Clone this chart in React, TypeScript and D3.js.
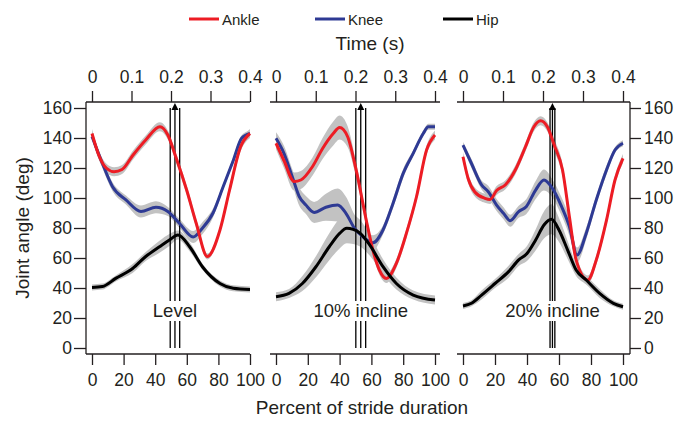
import React, { useEffect, useRef } from 'react';
import * as d3 from 'd3';

type Pt = [number, number, number];

const conditions = ['Level', '10% incline', '20% incline'];
const percentTicks = [0, 20, 40, 60, 80, 100];
const timeTicks = [0, 0.1, 0.2, 0.3, 0.4];
const angleTicks = [0, 20, 40, 60, 80, 100, 120, 140, 160];
const jointNames = ['Ankle', 'Knee', 'Hip'];
const jointColors = ['#ed1c24', '#2e3a94', '#000000'];

// [percent of stride, joint angle (deg), SD]
const levelAnkle: Pt[] = [[0, 143, 3], [4.5, 128, 3], [9, 120, 3], [14, 117.5, 3], [19, 119, 3], [26, 128.7, 3], [34, 138.7, 3], [43, 147.5, 3], [48, 142, 3], [53, 127.5, 3], [60, 105, 3], [66, 83, 3], [73, 61, 2], [81, 78.7, 2], [87, 105, 3], [94, 134, 3], [100, 143, 3]];
const levelKnee: Pt[] = [[0, 141, 2], [6.6, 123, 3], [13, 107.5, 3], [21.5, 98.7, 3], [31, 91, 4], [40.5, 93.8, 4], [48, 91, 3], [55.4, 83, 3], [64, 74, 4], [70, 80, 4], [76.6, 90, 3], [83, 107.5, 2], [89.4, 125, 2], [94.7, 139.8, 2], [100, 143, 2]];
const levelHip: Pt[] = [[0, 40.4, 2], [6.6, 41, 2], [15, 46.4, 2], [25.7, 53, 3], [34, 61, 3], [42.7, 67.5, 4], [49, 72, 4], [54.4, 75.3, 3], [61.8, 67.5, 3], [70, 54, 2], [81, 43, 2], [89.4, 39.8, 2], [100, 39, 2]];

const incline10Ankle: Pt[] = [[0, 136.5, 4], [5, 125, 5], [11.4, 111, 6], [15.6, 112, 6], [23, 121, 6], [29.3, 133, 7], [36, 143, 8], [40, 147, 8], [45, 141, 7], [50.4, 118.7, 5], [56.8, 85, 4], [61, 65, 3], [65, 52, 3], [69.4, 46.4, 3], [75.7, 56.4, 3], [82, 76.4, 3], [88.4, 101, 3], [94.7, 132, 3], [100, 142, 3]];
const incline10Knee: Pt[] = [[0, 139.8, 4], [5, 129.8, 5], [10.3, 114, 5], [14.6, 101, 6], [18.8, 95.3, 6], [24, 90.4, 7], [31.4, 93.8, 9], [38.8, 95.3, 11], [44, 89.8, 11], [49.4, 79.8, 9], [54.6, 74.2, 7], [61, 70.2, 5], [67.3, 78.7, 3], [73.6, 96.4, 3], [80, 116.4, 3], [86.3, 129.8, 2], [92.6, 143, 2], [95.8, 147.5, 2], [100, 147.5, 2]];
const incline10Hip: Pt[] = [[0, 34.2, 3], [8.2, 36.4, 3], [16.6, 43, 5], [25, 54, 7], [33.5, 67.5, 9], [40, 76.4, 10], [44.5, 79.8, 10], [52.5, 76.9, 9], [58.9, 68.7, 7], [67.3, 54.2, 5], [75.7, 43, 4], [86.3, 35.3, 3], [100, 32, 3]];

const incline20Ankle: Pt[] = [[0, 127.5, 3], [3.2, 113, 3], [7.4, 104, 3], [13.7, 99.8, 3], [16.9, 99, 3], [21, 105, 3], [26.4, 108.7, 3], [32.7, 118.7, 3], [39, 134, 3], [44.3, 147.5, 3], [48.5, 151.5, 3], [52.7, 147.5, 3], [57, 135.3, 4], [62.2, 118.7, 4], [66.5, 87.5, 4], [70.7, 58.7, 3], [78, 45.3, 3], [83.3, 58.7, 3], [89.7, 85.3, 3], [95, 112, 3], [100, 126.4, 3]];
const incline20Knee: Pt[] = [[0, 135.3, 2], [5.3, 123, 3], [11.6, 108.7, 3], [15.8, 104.2, 4], [21, 95.3, 4], [25.3, 89.8, 4], [29.5, 84.9, 4], [34.8, 90.9, 4], [39.5, 94.2, 5], [45.4, 105.3, 6], [50.6, 112, 7], [55.9, 106.4, 6], [61.2, 95.3, 6], [66.5, 80.9, 6], [71.3, 62, 5], [77, 76.4, 4], [83.3, 98.7, 3], [89.7, 118.7, 3], [95, 132, 2], [100, 136.5, 2]];
const incline20Hip: Pt[] = [[0, 28, 2], [5.3, 29.8, 2], [11.6, 35.3, 3], [20, 43, 3], [28.5, 50.9, 4], [34.8, 58.7, 4], [40, 63, 5], [45.4, 72, 7], [50.6, 82, 9], [55.3, 85.8, 10], [60, 78.7, 8], [65.4, 65.3, 6], [70.7, 52, 4], [77, 45.3, 3], [85.4, 36.4, 3], [94, 29.8, 2], [100, 27.5, 2]];

// toe-off (percent of stride), mean and SD
const toeOffMean = [52.5, 53.3, 55.9];
const toeOffSd = [3, 3.1, 1.5];

const panelSeries = [
  [levelAnkle, levelKnee, levelHip],
  [incline10Ankle, incline10Knee, incline10Hip],
  [incline20Ankle, incline20Knee, incline20Hip],
];

const FONT = '"Liberation Sans", Arial, Helvetica, sans-serif';
const INK = '#231f20';

const App = () => {
  const svgRef = useRef<SVGSVGElement>(null);

  useEffect(() => {
    renderChart();
  }, []);

  const renderChart = () => {
    const svg = d3.select(svgRef.current);
    svg.selectAll('*').remove();

    const top = 102;
    const bottom = 354;
    const x0s = [92, 276, 463];
    const x1s = [250, 435, 623];

    const y = d3.scaleLinear().domain([0, 160]).range([348, 108]);

    // legend
    const legendX = [189, 315, 443];
    jointNames.forEach((name, j) => {
      svg.append('line')
        .attr('x1', legendX[j]).attr('x2', legendX[j] + 30)
        .attr('y1', 19).attr('y2', 19)
        .attr('stroke', jointColors[j]).attr('stroke-width', 3);
      svg.append('text')
        .attr('x', legendX[j] + 33).attr('y', 24.5)
        .attr('font-family', FONT).attr('font-size', 15).attr('fill', INK)
        .text(name);
    });

    svg.append('text')
      .attr('x', 370).attr('y', 50)
      .attr('text-anchor', 'middle')
      .attr('font-family', FONT).attr('font-size', 19).attr('fill', INK)
      .text('Time (s)');

    svg.append('text')
      .attr('x', 362).attr('y', 414)
      .attr('text-anchor', 'middle')
      .attr('font-family', FONT).attr('font-size', 19).attr('fill', INK)
      .text('Percent of stride duration');

    svg.append('text')
      .attr('transform', 'translate(28.5,228) rotate(-90)')
      .attr('text-anchor', 'middle')
      .attr('font-family', FONT).attr('font-size', 19).attr('fill', INK)
      .text('Joint angle (deg)');

    const styleAxis = (g: any) => {
      g.select('.domain').remove();
      g.selectAll('line').attr('stroke', INK).attr('stroke-width', 1.3);
      g.selectAll('text').attr('font-family', FONT).attr('font-size', 17.5).attr('fill', INK);
      g.attr('font-family', null).attr('font-size', null);
    };

    conditions.forEach((label, i) => {
      const x = d3.scaleLinear().domain([0, 100]).range([x0s[i], x1s[i]]);
      const t = d3.scaleLinear().domain([0, 0.4]).range([x0s[i], x1s[i]]);
      const g = svg.append('g');

      const lineStart = x0s[i] - 6;
      const lineEnd = x1s[i] + (i === 0 ? 0 : i === 1 ? 5 : 7);

      // SD bands
      const band = d3.area<Pt>()
        .x(d => x(d[0]))
        .y0(d => y(d[1] - d[2]))
        .y1(d => y(d[1] + d[2]))
        .curve(d3.curveMonotoneX);
      panelSeries[i].forEach(series => {
        g.append('path').attr('d', band(series)).attr('fill', '#c2c2c2');
      });

      // toe-off lines
      const m = toeOffMean[i];
      const s = toeOffSd[i];
      [m - s, m + s].forEach(p => {
        g.append('line')
          .attr('x1', x(p)).attr('x2', x(p))
          .attr('y1', y(0)).attr('y2', y(160))
          .attr('stroke', '#000').attr('stroke-width', 1.3);
      });
      g.append('line')
        .attr('x1', x(m)).attr('x2', x(m))
        .attr('y1', y(0)).attr('y2', top + 6)
        .attr('stroke', '#000').attr('stroke-width', 1.3);
      g.append('path')
        .attr('d', `M${x(m)},${top + 1}L${x(m) - 3.5},${top + 8}L${x(m) + 3.5},${top + 8}Z`)
        .attr('fill', '#000');

      // curves
      const line = d3.line<Pt>()
        .x(d => x(d[0]))
        .y(d => y(d[1]))
        .curve(d3.curveMonotoneX);
      [1, 0, 2].forEach(j => {
        g.append('path')
          .attr('d', line(panelSeries[i][j]))
          .attr('fill', 'none')
          .attr('stroke', jointColors[j])
          .attr('stroke-width', 3)
          .attr('stroke-linejoin', 'round');
      });

      // condition label with white backing
      const txt = g.append('text')
        .attr('x', x(m)).attr('y', 317)
        .attr('text-anchor', 'middle')
        .attr('font-family', FONT).attr('font-size', 18.5).attr('fill', INK)
        .text(label);
      const bb = (txt.node() as SVGTextElement).getBBox();
      g.insert('rect', 'text')
        .attr('x', bb.x - 1).attr('y', 301)
        .attr('width', bb.width + 2).attr('height', 20)
        .attr('fill', '#fff');

      // top time axis
      const topAxis = svg.append('g')
        .attr('transform', `translate(0,${top})`)
        .call(d3.axisTop(t).tickValues(timeTicks).tickSize(11).tickPadding(8).tickFormat(d => String(d)));
      styleAxis(topAxis);
      svg.append('line')
        .attr('x1', lineStart).attr('x2', lineEnd)
        .attr('y1', top).attr('y2', top)
        .attr('stroke', INK).attr('stroke-width', 1.3);

      // bottom percent axis
      const bottomAxis = svg.append('g')
        .attr('transform', `translate(0,${bottom})`)
        .call(d3.axisBottom(x).tickValues(percentTicks).tickSize(11).tickPadding(9).tickFormat(d => String(d)));
      styleAxis(bottomAxis);
      svg.append('line')
        .attr('x1', lineStart).attr('x2', lineEnd)
        .attr('y1', bottom).attr('y2', bottom)
        .attr('stroke', INK).attr('stroke-width', 1.3);

      if (i === 0) {
        const leftAxis = svg.append('g')
          .attr('transform', `translate(${lineStart},0)`)
          .call(d3.axisLeft(y).tickValues(angleTicks).tickSize(12).tickPadding(2));
        styleAxis(leftAxis);
        svg.append('line')
          .attr('x1', lineStart).attr('x2', lineStart)
          .attr('y1', top).attr('y2', bottom)
          .attr('stroke', INK).attr('stroke-width', 1.3);
      }
      if (i === 2) {
        const rightAxis = svg.append('g')
          .attr('transform', `translate(${lineEnd},0)`)
          .call(d3.axisRight(y).tickValues(angleTicks).tickSize(11).tickPadding(3));
        styleAxis(rightAxis);
        svg.append('line')
          .attr('x1', lineEnd).attr('x2', lineEnd)
          .attr('y1', top).attr('y2', bottom)
          .attr('stroke', INK).attr('stroke-width', 1.3);
      }
    });
  };

  return (
    <svg
      ref={svgRef}
      width={682}
      height={421}
      style={{ position: 'absolute', left: 0, top: 0, background: '#fff' }}
    />
  );
};

export default App;
